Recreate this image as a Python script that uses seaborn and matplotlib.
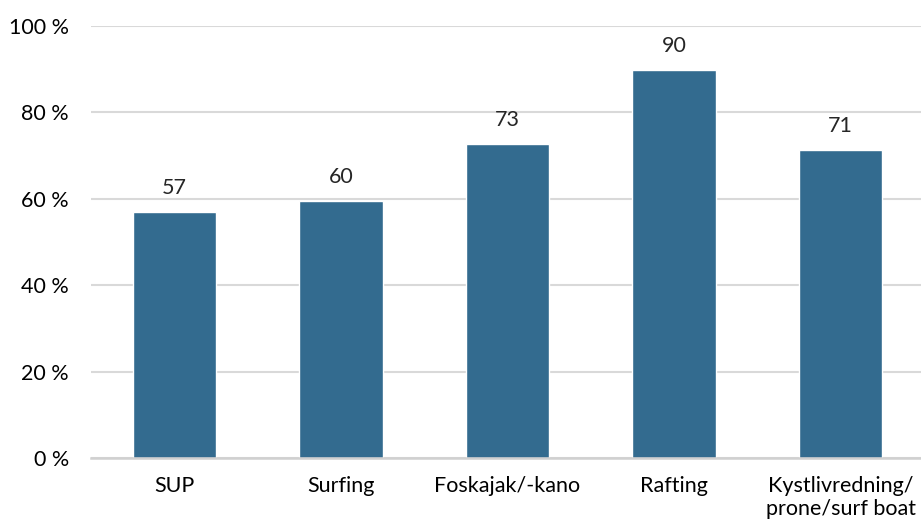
"""
Bar chart: share per activity
"""

import matplotlib
matplotlib.use('Agg')
import matplotlib.pyplot as plt
import seaborn as sns
import pandas as pd

categories = ['SUP', 'Surfing', 'Foskajak/-kano', 'Rafting', 'Kystlivredning/\nprone/surf boat']
values = [56.9, 59.6, 72.7, 89.9, 71.3]
y_ticks = [0, 20, 40, 60, 80, 100]

sns.set_theme(style='white')
plt.rcParams['font.family'] = ['Lato', 'DejaVu Sans']

df = pd.DataFrame({'kategori': categories, 'andel': values})

fig = plt.figure(figsize=(9.21, 5.29), dpi=100)
ax = fig.add_axes([91 / 921, 71 / 529, 833 / 921, 432 / 529])

sns.barplot(data=df, x='kategori', y='andel', color='#336b8f', saturation=1,
            width=0.5, ax=ax, zorder=3)

ax.set_ylim(0, 100)
ax.set_yticks(y_ticks)
ax.set_yticklabels([f'{t} %' for t in y_ticks])
ax.yaxis.grid(True, color='#d9d9d9', linewidth=1.5, zorder=0)
ax.set_axisbelow(True)

for side in ['top', 'right', 'left']:
    ax.spines[side].set_visible(False)
ax.spines['bottom'].set_color('#d0d0d0')
ax.spines['bottom'].set_linewidth(1.8)
ax.spines['bottom'].set_zorder(4)

ax.tick_params(axis='both', length=0, labelsize=15.5, colors='#000000')
ax.tick_params(axis='x', pad=13)
ax.tick_params(axis='y', pad=16)
ax.set_xlabel('')
ax.set_ylabel('')

ax.bar_label(ax.containers[0], labels=[f'{v:.0f}' for v in values],
             padding=10, fontsize=15.5)

fig.savefig('out.png', dpi=100)
